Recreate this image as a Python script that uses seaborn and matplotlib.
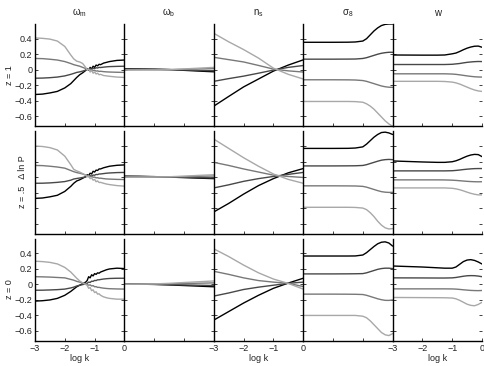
import matplotlib
matplotlib.use("Agg")
import matplotlib.pyplot as plt
import seaborn as sns

# x grids (log k)
LOGK_OM = [-3, -2.75, -2.5, -2.25, -2, -1.8, -1.7, -1.6, -1.5, -1.4, -1.3, -1.25, -1.2,
           -1.15, -1.1, -1.05, -1.0, -0.95, -0.9, -0.85, -0.8, -0.7, -0.6, -0.5, -0.25, 0]
LOGK_7 = [-3, -2.5, -2, -1.5, -1, -0.5, 0]
LOGK_S = [-3, -2, -1.5, -1.25, -1.0, -0.875, -0.75, -0.625, -0.5, -0.375, -0.25, -0.125, 0]

# line order in every panel: black, dark gray, gray, light gray
OMEGA_M_Z1 = [
    [-0.32, -0.315, -0.30, -0.28, -0.235, -0.18, -0.14, -0.10, -0.065, -0.04, -0.01, 0.015, -0.005,
     0.03, 0.01, 0.045, 0.03, 0.06, 0.05, 0.07, 0.065, 0.085, 0.095, 0.105, 0.12, 0.125],
    [-0.11, -0.108, -0.103, -0.095, -0.08, -0.06, -0.048, -0.035, -0.028, -0.018, -0.005, 0.002, 0.0,
     0.012, 0.008, 0.018, 0.015, 0.025, 0.022, 0.03, 0.028, 0.033, 0.037, 0.04, 0.043, 0.045],
    [0.145, 0.143, 0.135, 0.125, 0.105, 0.08, 0.065, 0.055, 0.045, 0.03, 0.015, 0.005, 0.008,
     -0.005, 0.0, -0.012, -0.008, -0.018, -0.015, -0.022, -0.02, -0.025, -0.028, -0.03, -0.033, -0.035],
    [0.41, 0.405, 0.395, 0.37, 0.30, 0.19, 0.14, 0.11, 0.10, 0.08, 0.03, 0.0, 0.01,
     -0.03, -0.01, -0.045, -0.03, -0.055, -0.045, -0.065, -0.06, -0.075, -0.08, -0.085, -0.095, -0.10],
]
OMEGA_M_Z05 = [
    [-0.275, -0.27, -0.255, -0.235, -0.185, -0.12, -0.08, -0.05, -0.035, -0.015, 0.005, 0.03, 0.02,
     0.05, 0.04, 0.075, 0.065, 0.09, 0.085, 0.105, 0.105, 0.12, 0.13, 0.14, 0.152, 0.157],
    [-0.08, -0.079, -0.075, -0.068, -0.058, -0.04, -0.025, -0.018, -0.012, -0.005, 0.002, 0.01, 0.006,
     0.018, 0.014, 0.026, 0.024, 0.034, 0.032, 0.04, 0.04, 0.045, 0.05, 0.053, 0.058, 0.06],
    [0.15, 0.148, 0.14, 0.13, 0.115, 0.085, 0.07, 0.058, 0.05, 0.04, 0.025, 0.015, 0.018,
     0.005, 0.008, -0.002, 0.0, -0.01, -0.008, -0.015, -0.014, -0.02, -0.024, -0.026, -0.03, -0.032],
    [0.40, 0.395, 0.38, 0.35, 0.27, 0.16, 0.10, 0.08, 0.065, 0.045, 0.025, 0.005, 0.012,
     -0.02, -0.01, -0.04, -0.03, -0.06, -0.05, -0.07, -0.068, -0.08, -0.09, -0.097, -0.11, -0.117],
]
OMEGA_M_Z0 = [
    [-0.215, -0.21, -0.20, -0.18, -0.14, -0.09, -0.06, -0.03, -0.01, 0.01, 0.03, 0.05, 0.10,
     0.085, 0.125, 0.11, 0.14, 0.13, 0.15, 0.145, 0.16, 0.175, 0.19, 0.20, 0.21, 0.205],
    [-0.075, -0.074, -0.071, -0.067, -0.06, -0.045, -0.035, -0.02, -0.01, -0.002, 0.008, 0.015, 0.03,
     0.026, 0.042, 0.04, 0.052, 0.05, 0.06, 0.06, 0.064, 0.07, 0.074, 0.077, 0.08, 0.08],
    [0.10, 0.098, 0.095, 0.09, 0.085, 0.065, 0.055, 0.04, 0.03, 0.02, 0.01, 0.0, -0.01,
     -0.005, -0.02, -0.015, -0.03, -0.028, -0.038, -0.037, -0.042, -0.048, -0.052, -0.055, -0.058, -0.06],
    [0.30, 0.295, 0.285, 0.265, 0.22, 0.16, 0.12, 0.08, 0.045, 0.02, 0.0, -0.01, -0.05,
     -0.04, -0.08, -0.07, -0.105, -0.095, -0.125, -0.12, -0.14, -0.16, -0.172, -0.18, -0.19, -0.19],
]

OMEGA_B_Z1 = [
    [0.012, 0.01, 0.007, 0.002, -0.008, -0.018, -0.027],
    [0.008, 0.006, 0.004, 0.001, -0.004, -0.009, -0.013],
    [0.0, 0.001, 0.001, 0.001, 0.005, 0.01, 0.014],
    [-0.005, -0.004, -0.003, 0.0, 0.01, 0.02, 0.03],
]
OMEGA_B_Z05 = [
    [0.012, 0.01, 0.006, 0.0, -0.007, -0.014, -0.02],
    [0.008, 0.007, 0.004, 0.0, -0.003, -0.007, -0.01],
    [0.003, 0.003, 0.003, 0.003, 0.006, 0.01, 0.014],
    [-0.002, -0.001, 0.001, 0.004, 0.012, 0.022, 0.03],
]
OMEGA_B_Z0 = [
    [0.006, 0.004, 0.0, -0.006, -0.014, -0.022, -0.03],
    [0.005, 0.004, 0.002, -0.002, -0.006, -0.01, -0.014],
    [0.004, 0.004, 0.005, 0.008, 0.012, 0.016, 0.02],
    [0.003, 0.004, 0.007, 0.014, 0.025, 0.035, 0.045],
]

N_S_Z1 = [
    [-0.47, -0.345, -0.222, -0.12, -0.018, 0.06, 0.127],
    [-0.15, -0.115, -0.083, -0.045, -0.005, 0.03, 0.054],
    [0.16, 0.13, 0.10, 0.055, 0.008, -0.015, -0.03],
    [0.47, 0.36, 0.26, 0.15, 0.02, -0.06, -0.12],
]
N_S_Z05 = [
    [-0.45, -0.34, -0.22, -0.11, -0.02, 0.055, 0.11],
    [-0.14, -0.10, -0.055, -0.02, 0.008, 0.035, 0.06],
    [0.19, 0.15, 0.105, 0.065, 0.025, 0.008, -0.005],
    [0.49, 0.37, 0.25, 0.14, 0.04, -0.03, -0.08],
]
N_S_Z0 = [
    [-0.46, -0.35, -0.24, -0.14, -0.05, 0.018, 0.08],
    [-0.15, -0.11, -0.065, -0.035, -0.01, 0.015, 0.03],
    [0.17, 0.13, 0.085, 0.05, 0.03, 0.015, -0.027],
    [0.46, 0.36, 0.25, 0.15, 0.07, 0.013, -0.06],
]

SIGMA_8_Z1 = [
    [0.354, 0.354, 0.355, 0.358, 0.37, 0.40, 0.45, 0.50, 0.54, 0.57, 0.585, 0.59, 0.59],
    [0.136, 0.136, 0.137, 0.138, 0.145, 0.155, 0.17, 0.185, 0.20, 0.212, 0.22, 0.225, 0.225],
    [-0.13, -0.13, -0.131, -0.133, -0.14, -0.15, -0.165, -0.18, -0.195, -0.21, -0.22, -0.226, -0.228],
    [-0.41, -0.41, -0.41, -0.412, -0.42, -0.44, -0.47, -0.51, -0.56, -0.61, -0.66, -0.70, -0.73],
]
SIGMA_8_Z05 = [
    [0.37, 0.37, 0.371, 0.375, 0.39, 0.425, 0.47, 0.515, 0.55, 0.575, 0.58, 0.57, 0.55],
    [0.144, 0.144, 0.145, 0.146, 0.15, 0.16, 0.175, 0.19, 0.205, 0.218, 0.225, 0.228, 0.225],
    [-0.113, -0.113, -0.114, -0.115, -0.12, -0.13, -0.145, -0.16, -0.175, -0.188, -0.195, -0.198, -0.197],
    [-0.39, -0.39, -0.39, -0.392, -0.40, -0.42, -0.46, -0.51, -0.57, -0.62, -0.655, -0.67, -0.665],
]
SIGMA_8_Z0 = [
    [0.367, 0.367, 0.367, 0.368, 0.38, 0.41, 0.45, 0.49, 0.525, 0.545, 0.55, 0.535, 0.495],
    [0.136, 0.136, 0.137, 0.138, 0.14, 0.15, 0.165, 0.18, 0.195, 0.205, 0.21, 0.21, 0.205],
    [-0.125, -0.125, -0.126, -0.127, -0.13, -0.14, -0.155, -0.17, -0.185, -0.197, -0.205, -0.206, -0.20],
    [-0.40, -0.40, -0.40, -0.40, -0.41, -0.43, -0.47, -0.52, -0.57, -0.62, -0.65, -0.66, -0.635],
]

W_Z1 = [
    [0.19, 0.188, 0.188, 0.19, 0.205, 0.215, 0.235, 0.258, 0.278, 0.293, 0.303, 0.305, 0.29],
    [0.067, 0.067, 0.067, 0.067, 0.07, 0.075, 0.08, 0.088, 0.095, 0.10, 0.104, 0.106, 0.105],
    [-0.053, -0.053, -0.053, -0.053, -0.056, -0.06, -0.066, -0.073, -0.08, -0.086, -0.091, -0.094, -0.095],
    [-0.15, -0.15, -0.15, -0.152, -0.16, -0.17, -0.185, -0.205, -0.225, -0.245, -0.262, -0.274, -0.28],
]
W_Z05 = [
    [0.208, 0.195, 0.19, 0.19, 0.198, 0.21, 0.228, 0.25, 0.27, 0.285, 0.293, 0.29, 0.264],
    [0.08, 0.08, 0.08, 0.08, 0.082, 0.086, 0.091, 0.097, 0.102, 0.106, 0.109, 0.11, 0.11],
    [-0.036, -0.036, -0.036, -0.037, -0.04, -0.043, -0.047, -0.051, -0.055, -0.058, -0.06, -0.061, -0.06],
    [-0.14, -0.14, -0.14, -0.14, -0.145, -0.152, -0.163, -0.178, -0.195, -0.21, -0.222, -0.23, -0.23],
]
W_Z0 = [
    [0.238, 0.225, 0.215, 0.21, 0.21, 0.225, 0.26, 0.295, 0.315, 0.32, 0.31, 0.29, 0.264],
    [0.085, 0.084, 0.083, 0.083, 0.085, 0.09, 0.098, 0.106, 0.112, 0.114, 0.113, 0.108, 0.10],
    [-0.057, -0.057, -0.057, -0.057, -0.058, -0.06, -0.064, -0.069, -0.073, -0.077, -0.079, -0.08, -0.078],
    [-0.168, -0.17, -0.171, -0.172, -0.175, -0.185, -0.205, -0.23, -0.255, -0.27, -0.275, -0.258, -0.23],
]

col_titles = [r"$\omega_m$", r"$\omega_b$", r"$n_s$", r"$\sigma_8$", "w"]
row_labels = ["z = 1", "z = .5   \u0394 ln P", "z = 0"]
line_colors = ["#000000", "#484848", "#787878", "#a8a8a8"]
ytick_vals = [-0.6, -0.4, -0.2, 0, 0.2, 0.4]
ytick_text = ["\u22120.6", "\u22120.4", "\u22120.2", "0", "0.2", "0.4"]
xtick_vals = [-3, -2, -1, 0]
xtick_text = ["\u22123", "\u22122", "\u22121", "0"]

grids = [LOGK_OM, LOGK_7, LOGK_7, LOGK_S, LOGK_S]
panels = [
    [OMEGA_M_Z1, OMEGA_B_Z1, N_S_Z1, SIGMA_8_Z1, W_Z1],
    [OMEGA_M_Z05, OMEGA_B_Z05, N_S_Z05, SIGMA_8_Z05, W_Z05],
    [OMEGA_M_Z0, OMEGA_B_Z0, N_S_Z0, SIGMA_8_Z0, W_Z0],
]

sns.set_theme(style="ticks")
plt.rcParams["font.family"] = ["Liberation Sans", "DejaVu Sans"]
plt.rcParams["mathtext.default"] = "regular"

fig, axes = plt.subplots(3, 5, figsize=(4.85, 3.66), dpi=100)
fig.subplots_adjust(left=35 / 485, right=482 / 485, top=1 - 24 / 366, bottom=1 - 341 / 366,
                    wspace=0, hspace=0.05)

txt = "#222222"
for r in range(3):
    for c in range(5):
        ax = axes[r, c]
        for vals, col in zip(panels[r][c], line_colors):
            sns.lineplot(x=grids[c], y=vals, color=col, lw=1.0, ax=ax)
        ax.set_xlim(-3, 0)
        ax.set_ylim(-0.73, 0.59)
        ax.spines[["top", "right"]].set_visible(False)
        for s in ["left", "bottom"]:
            ax.spines[s].set_linewidth(1.0)
            ax.spines[s].set_color("black")
        ax.tick_params(direction="in", length=2.5, width=0.6, left=True, right=True,
                       bottom=True, top=False, labelsize=6.5, colors=txt, pad=2)
        ax.set_yticks(ytick_vals)
        ax.set_xticks(xtick_vals)
        if c == 0 and r != 1:
            ax.set_yticklabels(ytick_text)
        else:
            ax.set_yticklabels([])
        if r == 2 and c in (0, 2, 4):
            ax.set_xticklabels(xtick_text)
            ax.set_xlabel("log k", fontsize=6.5, color=txt, labelpad=1)
        else:
            ax.set_xticklabels([])
        if r == 0:
            ax.set_title(col_titles[c], fontsize=7, color=txt, pad=6)

# row labels
fig.text(10 / 485, 1 - 75 / 366, row_labels[0], rotation=90, ha="center", va="center",
         fontsize=6.5, color=txt)
fig.text(23 / 485, 1 - 182 / 366, row_labels[1], rotation=90, ha="center", va="center",
         fontsize=6.5, color=txt)
fig.text(10 / 485, 1 - 289 / 366, row_labels[2], rotation=90, ha="center", va="center",
         fontsize=6.5, color=txt)

fig.savefig("out.png", dpi=100)
